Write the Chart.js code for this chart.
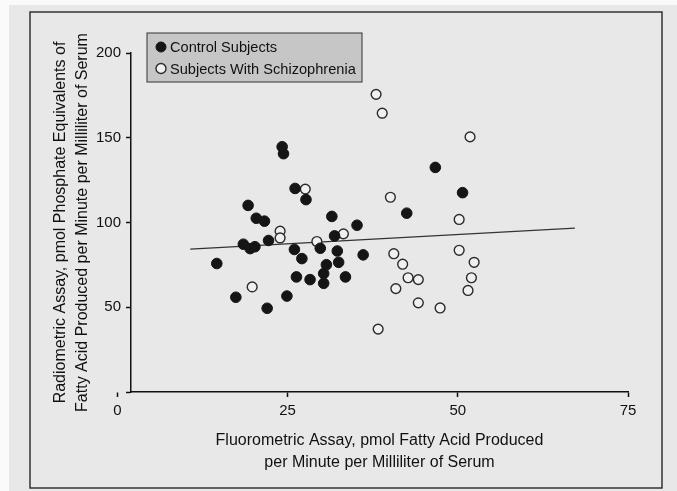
<!DOCTYPE html>
<html>
<head>
<meta charset="utf-8">
<script src="https://cdn.jsdelivr.net/npm/chart.js@4.4.0/dist/chart.umd.min.js"></script>
<style>
  html, body { margin: 0; padding: 0; background: #fff; }
  #wrap { width: 677px; height: 491px; position: relative; }
</style>
</head>
<body>
<div id="wrap"><canvas id="chart" width="677" height="491"></canvas></div>
<script>
// values
const controlX = [14.6, 17.4, 18.5, 19.2, 19.5, 20.2, 20.4, 21.6, 22.2, 22.0, 24.2, 24.4, 24.9, 26.0, 26.1, 26.3, 27.1, 27.7, 28.3, 29.8, 30.3, 30.3, 30.7, 31.5, 31.9, 32.3, 32.5, 33.5, 35.2, 36.1, 42.5, 46.7, 50.7];
const controlY = [75.8, 55.9, 87.2, 110.1, 84.6, 85.7, 102.5, 100.8, 89.4, 49.4, 144.7, 140.6, 56.6, 84.1, 120.1, 67.9, 78.7, 113.5, 66.3, 84.8, 69.9, 64.1, 75.1, 103.6, 92.1, 83.2, 76.5, 67.9, 98.4, 80.9, 105.5, 132.5, 117.6];

const schizX = [19.8, 23.9, 23.9, 27.6, 29.3, 33.2, 38.0, 38.9, 40.1, 40.6, 40.9, 41.9, 42.7, 44.2, 44.2, 47.4, 38.3, 50.2, 50.2, 51.8, 52.4, 52.0, 51.5];
const schizY = [62.0, 94.9, 90.9, 119.7, 88.8, 93.3, 175.6, 164.5, 114.9, 81.6, 61.0, 75.4, 67.4, 66.3, 52.6, 49.6, 37.1, 101.8, 83.6, 150.5, 76.5, 67.4, 59.9];

// regression line end points
const fitX = [10.7, 67.2];
const fitY = [84.3, 96.7];

const xTicks = [0, 25, 50, 75];
const yTicks = [0, 50, 100, 150, 200];

const seriesNames = ['Control Subjects', 'Subjects With Schizophrenia'];
const xTitle = ['Fluorometric Assay, pmol Fatty Acid Produced', 'per Minute per Milliliter of Serum'];
const yTitle = ['Radiometric Assay, pmol Phosphate Equivalents of', 'Fatty Acid Produced per Minute per Milliliter of Serum'];

const FONT = "'Liberation Sans', Arial, sans-serif";
const INK = '#111';
const PAPER = '#e8e8e8';

const toPoints = (xs, ys) => xs.map((x, i) => ({ x: x, y: ys[i] }));

// paper background and outer frame
const pagePlugin = {
  id: 'page',
  beforeDraw(chart) {
    const ctx = chart.ctx;
    ctx.save();
    ctx.fillStyle = '#fafafa';
    ctx.fillRect(0, 0, chart.width, chart.height);
    ctx.fillStyle = PAPER;
    ctx.fillRect(9, 5, chart.width - 9, chart.height - 5);
    ctx.strokeStyle = '#333';
    ctx.lineWidth = 1.5;
    ctx.strokeRect(30, 12, 632, 476);
    ctx.restore();
  }
};

// legend box in the upper left, drawn from the dataset styles
const legendBox = {
  id: 'legendBox',
  afterDraw(chart) {
    const ctx = chart.ctx;
    ctx.save();
    ctx.fillStyle = '#c6c6c6';
    ctx.fillRect(147, 33, 215, 49);
    ctx.strokeStyle = '#333';
    ctx.lineWidth = 1;
    ctx.strokeRect(147, 33, 215, 49);
    ctx.font = '14.6px ' + FONT;
    ctx.textBaseline = 'middle';
    [0, 1].forEach(i => {
      const ds = chart.data.datasets[i];
      const y = 47 + i * 21.5;
      ctx.beginPath();
      ctx.arc(161, y, 5, 0, Math.PI * 2);
      ctx.fillStyle = ds.backgroundColor;
      ctx.fill();
      ctx.lineWidth = ds.borderWidth;
      ctx.strokeStyle = ds.borderColor;
      ctx.stroke();
      ctx.fillStyle = INK;
      ctx.fillText(seriesNames[i], 170, y + 1);
    });
    ctx.restore();
  }
};

const ctx = document.getElementById('chart').getContext('2d');
new Chart(ctx, {
  type: 'scatter',
  data: {
    datasets: [
      {
        label: seriesNames[0],
        data: toPoints(controlX, controlY),
        backgroundColor: '#151515',
        borderColor: '#151515',
        borderWidth: 1,
        pointRadius: 5.3,
        order: 1
      },
      {
        label: seriesNames[1],
        data: toPoints(schizX, schizY),
        backgroundColor: '#f0f0f0',
        borderColor: '#2a2a2a',
        borderWidth: 1.4,
        pointRadius: 4.9,
        order: 2
      },
      {
        type: 'line',
        label: 'fit',
        data: toPoints(fitX, fitY),
        borderColor: '#333',
        borderWidth: 1.2,
        pointRadius: 0,
        fill: false,
        order: 3
      }
    ]
  },
  options: {
    responsive: false,
    animation: false,
    events: [],
    layout: {
      padding: { left: 45, right: 49, top: 53, bottom: 10 }
    },
    plugins: {
      legend: { display: false },
      tooltip: { enabled: false }
    },
    scales: {
      x: {
        type: 'linear',
        min: 2,
        max: 75,
        afterBuildTicks: scale => {
          scale.ticks = xTicks.map(v => ({ value: v }));
        },
        afterFit: scale => { scale.height = 89; },
        border: { display: true, color: INK, width: 1.5 },
        grid: {
          drawOnChartArea: false,
          drawTicks: true,
          tickLength: 5,
          tickWidth: 1.5,
          tickColor: INK
        },
        ticks: {
          autoSkip: false,
          maxRotation: 0,
          padding: 5,
          color: INK,
          font: { family: FONT, size: 15 }
        },
        title: {
          display: true,
          text: xTitle,
          color: INK,
          padding: { top: 0, bottom: 7 },
          font: { family: FONT, size: 16, lineHeight: '22px' }
        }
      },
      y: {
        type: 'linear',
        min: 0,
        max: 200,
        afterBuildTicks: scale => {
          scale.ticks = yTicks.map(v => ({ value: v }));
        },
        afterFit: scale => { scale.width = 86; },
        border: { display: true, color: INK, width: 1.5 },
        grid: {
          drawOnChartArea: false,
          drawTicks: true,
          tickLength: 5,
          tickWidth: 1.5,
          tickColor: INK
        },
        ticks: {
          padding: 5,
          color: INK,
          font: { family: FONT, size: 15 },
          callback: v => (v === 0 ? '' : v)
        },
        title: {
          display: true,
          text: yTitle,
          color: INK,
          padding: { top: 5, bottom: 0 },
          font: { family: FONT, size: 16, lineHeight: '22px' }
        }
      }
    }
  },
  plugins: [pagePlugin, legendBox]
});
</script>
</body>
</html>
